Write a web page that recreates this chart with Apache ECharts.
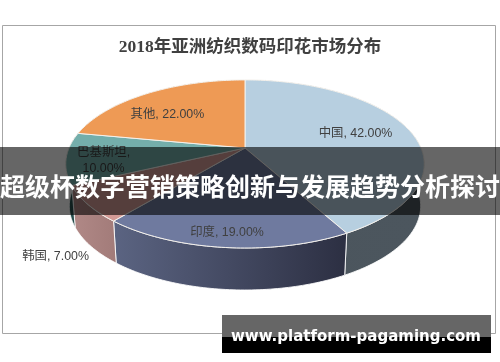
<!DOCTYPE html>
<html>
<head>
<meta charset="utf-8">
<title>2018年亚洲纺织数码印花市场分布</title>
<script src="https://cdn.jsdelivr.net/npm/echarts@6/dist/echarts.min.js"></script>
<style>
  html, body { margin: 0; padding: 0; background: #fff; }
  #chart { width: 500px; height: 362px; }
</style>
</head>
<body>
<div id="chart"></div>
<script>
const categories = ['中国', '印度', '韩国', '巴基斯坦', '其他']
const shares = [42, 19, 7, 10, 22]
const labelTexts = ['中国, 42.00%', '印度, 19.00%', '韩国, 7.00%', '巴基斯坦,\n10.00%', '其他, 22.00%']

const topColors = ['#b7cfe0', '#6f7a9f', '#d49b96', '#74aeab', '#ee9a55']
const sideColors = [
  ['#4b555d', '#4c565e'],
  ['#5b6482', '#2c2f42'],
  ['#b18987', '#a27b79'],
  ['#2a5554', '#234645'],
  ['#b87a45', '#a86c3c']
]
// radial position of each label along its mid angle, then a nudge in px
const labelRadius = [0.65, 0.86, 1, 0.8, 0.65]
const labelNudge = [[3, -2], [-1, 2], [-32, 52], [1, 4], [-11, 4]]

// tilted disc, projected with perspective so the far half looks shorter
const cx = 245
const cy = 148
const radiusX = 176
const radiusY = 81
const tilt = 0.19
const depth = 42
const bottomScale = 0.98

const total = shares.reduce((a, b) => a + b, 0)

const project = (deg, r = 1) => {
  const a = deg * Math.PI / 180
  const w = 1 + tilt * r * Math.cos(a)
  return [cx + radiusX * r * Math.sin(a) / w, cy - radiusY * r * Math.cos(a) / w]
}

const sliceAngles = (index) => {
  const before = shares.slice(0, index).reduce((a, b) => a + b, 0)
  return [before / total * 360, (before + shares[index]) / total * 360]
}

const arcPoints = (start, end) => {
  const pts = []
  for (let d = start; d < end; d += 1) pts.push(project(d))
  pts.push(project(end))
  return pts
}

const renderSide = (params) => {
  const [start, end] = sliceAngles(params.dataIndex)
  const top = arcPoints(start, end)
  const bottom = top.map(p => [cx + (p[0] - cx) * bottomScale, p[1] + depth]).reverse()
  const colors = sideColors[params.dataIndex]
  return {
    type: 'polygon',
    shape: { points: top.concat(bottom) },
    style: {
      fill: new echarts.graphic.LinearGradient(0, 0, 1, 0, [
        { offset: 0, color: colors[0] },
        { offset: 1, color: colors[1] }
      ]),
      stroke: 'rgba(255,255,255,0.85)',
      lineWidth: 1
    }
  }
}

const renderTop = (params) => {
  const i = params.dataIndex
  const [start, end] = sliceAngles(i)
  const mid = (start + end) / 2
  const anchor = project(mid, labelRadius[i])
  return {
    type: 'group',
    children: [
      {
        type: 'polygon',
        shape: { points: [[cx, cy]].concat(arcPoints(start, end)) },
        style: { fill: topColors[i], stroke: '#f4f1ec', lineWidth: 1 }
      },
      {
        type: 'text',
        z2: 5,
        x: anchor[0] + labelNudge[i][0],
        y: anchor[1] + labelNudge[i][1],
        style: {
          text: labelTexts[i],
          fill: '#404040',
          font: '12.4px "Liberation Sans", "Noto Sans CJK SC", sans-serif',
          align: 'center',
          verticalAlign: 'middle',
          lineHeight: 16
        }
      }
    ]
  }
}

const chart = echarts.init(document.getElementById('chart'), null, { renderer: 'canvas' })

chart.setOption({
  animation: false,
  backgroundColor: '#fff',
  title: {
    text: '2018年亚洲纺织数码印花市场分布',
    left: 'center',
    top: 34,
    textStyle: {
      color: '#404040',
      fontSize: 17.5,
      fontWeight: 'bold',
      fontFamily: '"Liberation Serif", "Noto Sans CJK SC", sans-serif'
    }
  },
  series: [
    {
      type: 'custom',
      name: '侧面',
      coordinateSystem: 'none',
      z: 1,
      data: shares.map((v, i) => ({ name: categories[i], value: v })),
      renderItem: renderSide
    },
    {
      type: 'custom',
      name: '市场份额',
      coordinateSystem: 'none',
      z: 2,
      data: shares.map((v, i) => ({ name: categories[i], value: v })),
      renderItem: renderTop
    }
  ],
  graphic: [
    {
      type: 'rect', z: 0,
      shape: { x: 2.5, y: 25.5, width: 493, height: 308 },
      style: { fill: 'transparent', stroke: '#a6a6a6', lineWidth: 1 }
    },
    {
      type: 'rect', z: 20,
      shape: { x: 0, y: 147, width: 500, height: 68 },
      style: { fill: 'rgba(0,0,0,0.6)' }
    },
    {
      type: 'text', z: 21,
      x: 250, y: 186,
      style: {
        text: '超级杯数字营销策略创新与发展趋势分析探讨',
        fill: '#fff',
        font: 'bold 25px "Noto Sans CJK SC", sans-serif',
        align: 'center',
        verticalAlign: 'middle'
      }
    },
    {
      type: 'rect', z: 20,
      shape: { x: 222, y: 315, width: 269, height: 38 },
      style: { fill: '#000' }
    },
    {
      type: 'rect', z: 21,
      shape: { x: 222, y: 315, width: 269, height: 22 },
      style: { fill: '#666' }
    },
    {
      type: 'text', z: 22,
      x: 356, y: 337,
      style: {
        text: 'www.platform-pagaming.com',
        fill: '#fff',
        font: 'bold 15px "DejaVu Sans", sans-serif',
        align: 'center',
        verticalAlign: 'middle'
      }
    }
  ]
})
</script>
</body>
</html>
